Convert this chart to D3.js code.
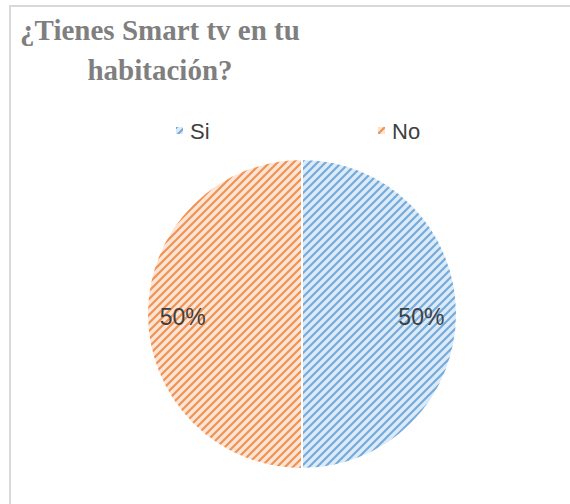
<!DOCTYPE html>
<html>
<head>
<meta charset="utf-8">
<script src="https://cdn.jsdelivr.net/npm/d3@7"></script>
<style>
  html, body { margin: 0; padding: 0; background: #fff; }
  svg { display: block; }
</style>
</head>
<body>
<svg id="chart" width="570" height="504"></svg>
<script>
const categories = ["Si", "No"];
const values = [50, 50];
const fgColors = ["#5B9BD5", "#ED7D31"];
const bgColors = ["#DDEBF7", "#FCE4D6"];
const titleLines = ["¿Tienes Smart tv en tu", "habitación?"];

const svg = d3.select("#chart");

// frame
svg.append("rect").attr("x", 10).attr("y", 6).attr("width", 600).attr("height", 600)
  .attr("fill", "#fff").attr("stroke", "#D9D9D9").attr("stroke-width", 2);

// patterns
const defs = svg.append("defs");
categories.forEach((c, i) => {
  const p = defs.append("pattern").attr("id", "pat" + i)
    .attr("patternUnits", "userSpaceOnUse").attr("width", 8).attr("height", 8);
  p.append("rect").attr("width", 8).attr("height", 8).attr("fill", bgColors[i]);
  p.append("path").attr("d", "M-2,2 L2,-2 M0,8 L8,0 M6,10 L10,6")
    .attr("stroke", fgColors[i]).attr("stroke-width", 2.2).attr("stroke-opacity", 0.8);
});

// title
const title = svg.append("text").attr("text-anchor", "middle")
  .attr("font-family", "'Liberation Serif', 'Times New Roman', serif")
  .attr("font-weight", "bold").attr("font-size", 29).attr("fill", "#7F7F7F");
titleLines.forEach((t, i) => {
  title.append("tspan").attr("x", 160).attr("y", 40 + i * 40).text(t);
});

// pie
const cx = 302, cy = 314, r = 155;
const pie = d3.pie().sort(null).value(d => d)(values);
const arc = d3.arc().innerRadius(0).outerRadius(r);
const g = svg.append("g").attr("transform", `translate(${cx},${cy})`);
g.selectAll("path.slice").data(pie).join("path").attr("class", "slice")
  .attr("d", arc).attr("fill", (d, i) => `url(#pat${i})`)
  .attr("stroke", "#fff").attr("stroke-width", 2);

const labelArc = d3.arc().innerRadius(r * 0.77).outerRadius(r * 0.77);
const total = d3.sum(values);
g.selectAll("text.lbl").data(pie).join("text").attr("class", "lbl")
  .attr("transform", d => { const [x, y] = labelArc.centroid(d); return `translate(${x},${y + 3})`; })
  .attr("text-anchor", "middle").attr("dy", "0.35em")
  .attr("font-family", "'Liberation Sans', Arial, sans-serif").attr("font-size", 23)
  .attr("fill", "#404040")
  .text(d => Math.round(d.data / total * 100) + "%");

// legend
const legendX = [176, 378];
const legend = svg.append("g");
categories.forEach((c, i) => {
  legend.append("rect").attr("x", legendX[i]).attr("y", 127).attr("width", 7).attr("height", 7)
    .attr("fill", `url(#pat${i})`);
  legend.append("text").attr("x", legendX[i] + 14).attr("y", 131).attr("dy", "0.35em")
    .attr("font-family", "'Liberation Sans', Arial, sans-serif").attr("font-size", 22)
    .attr("fill", "#404040").text(c);
});
</script>
</body>
</html>
